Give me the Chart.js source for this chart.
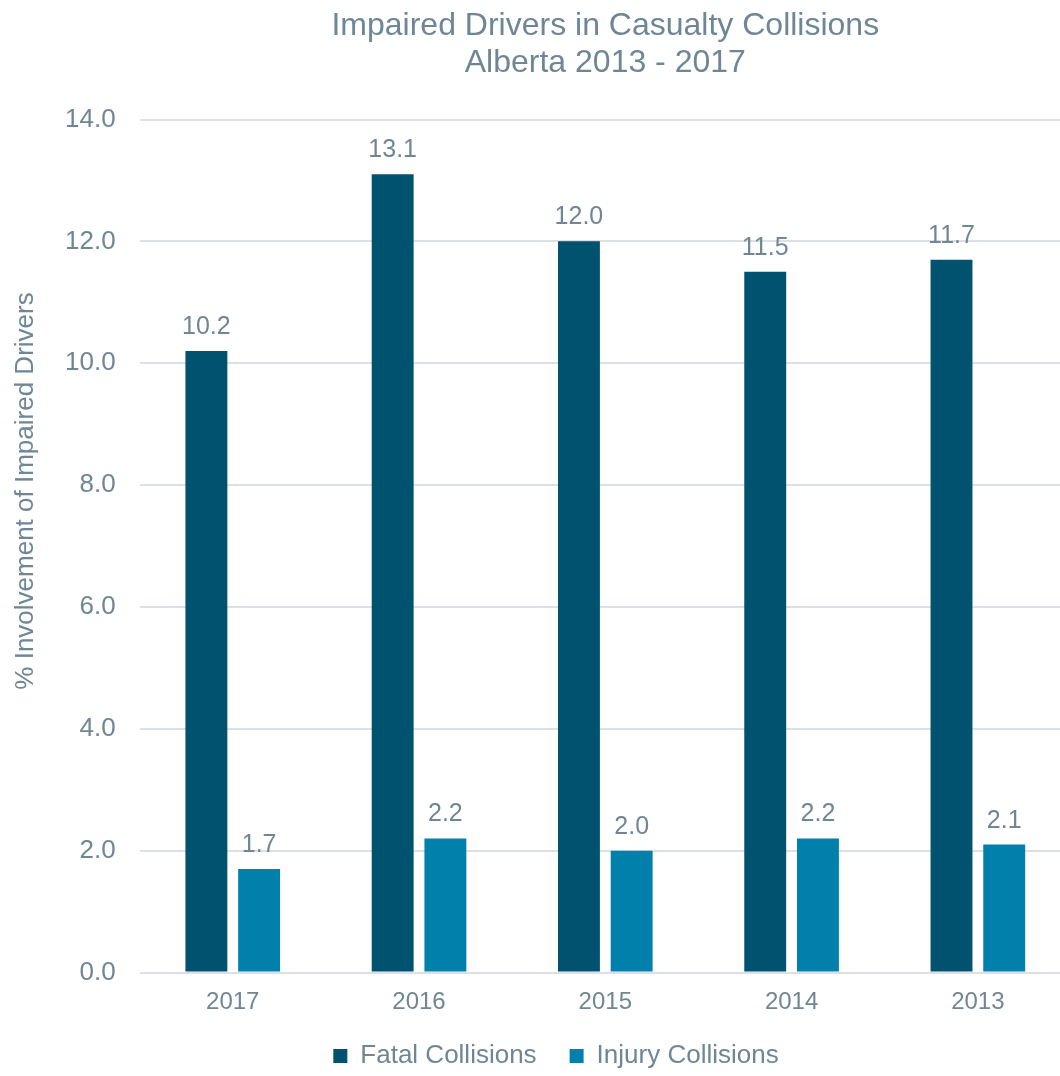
<!DOCTYPE html>
<html>
<head>
<meta charset="utf-8">
<title>Impaired Drivers in Casualty Collisions</title>
<script src="https://cdn.jsdelivr.net/npm/chart.js@4/dist/chart.umd.min.js"></script>
<style>
  html, body { margin: 0; padding: 0; background: #fff; overflow: hidden; }
  #wrap { width: 1103px; height: 1076px; }
</style>
</head>
<body>
<div id="wrap"><canvas id="impairedChart" width="1103" height="1076"></canvas></div>
<script>
// anos (ordem do grafico original: mais recente primeiro)
const years = ["2017", "2016", "2015", "2014", "2013"];
const fatalCollisions = [10.2, 13.1, 12.0, 11.5, 11.7];
const injuryCollisions = [1.7, 2.2, 2.0, 2.2, 2.1];
const yTickValues = [0, 2, 4, 6, 8, 10, 12, 14];

const titleLines = ["Impaired Drivers in Casualty Collisions", "Alberta 2013 - 2017"];
const yAxisTitle = "% Involvement of Impaired Drivers";

const textColor = "#6E8695";
const fontFamily = "'Liberation Sans', Arial, sans-serif";

// titulo centralizado sobre a area do grafico + titulo do eixo y
const titlesPlugin = {
  id: "titles",
  afterDraw(chart) {
    const ctx = chart.ctx;
    const area = chart.chartArea;
    ctx.save();
    ctx.fillStyle = textColor;
    ctx.font = "32px " + fontFamily;
    ctx.textAlign = "center";
    ctx.textBaseline = "alphabetic";
    const cx = (area.left + area.right) / 2;
    ctx.fillText(titleLines[0], cx, 35);
    ctx.fillText(titleLines[1], cx, 72);

    ctx.font = "26px " + fontFamily;
    ctx.translate(33, (area.top + area.bottom) / 2 - 55);
    ctx.rotate(-Math.PI / 2);
    ctx.fillText(yAxisTitle, 0, 0);
    ctx.restore();
  },
};

// valores em cima das barras
const valueLabels = {
  id: "valueLabels",
  afterDatasetsDraw(chart) {
    const ctx = chart.ctx;
    ctx.save();
    ctx.fillStyle = textColor;
    ctx.font = "25px " + fontFamily;
    ctx.textAlign = "center";
    ctx.textBaseline = "alphabetic";
    chart.data.datasets.forEach((ds, i) => {
      chart.getDatasetMeta(i).data.forEach((bar, j) => {
        ctx.fillText(ds.data[j].toFixed(1), bar.x, bar.y - 17);
      });
    });
    ctx.restore();
  },
};

const data = {
  labels: years,
  datasets: [
    {
      label: "Fatal Collisions",
      data: fatalCollisions,
      backgroundColor: "#00526F",
      borderWidth: 0,
      barPercentage: 0.795,
      categoryPercentage: 0.566,
    },
    {
      label: "Injury Collisions",
      data: injuryCollisions,
      backgroundColor: "#0080AB",
      borderWidth: 0,
      barPercentage: 0.795,
      categoryPercentage: 0.566,
    },
  ],
};

const config = {
  type: "bar",
  data: data,
  options: {
    responsive: false,
    animation: false,
    layout: {
      padding: { top: 119.5, left: 41, right: 32, bottom: -3 },
    },
    scales: {
      x: {
        grid: { display: false, drawTicks: false },
        border: { display: false },
        ticks: {
          color: textColor,
          padding: 23,
          font: { family: fontFamily, size: 24, lineHeight: 0.58 },
        },
        // altura fixa do eixo x para sobrar espaco pra legenda
        afterFit(scale) {
          scale.height = 37.5;
        },
      },
      y: {
        min: 0,
        max: 14,
        afterBuildTicks(scale) {
          scale.ticks = yTickValues.map((v) => ({ value: v }));
        },
        grid: { color: "#DCE0E5", lineWidth: 2, drawTicks: false },
        border: { display: false },
        ticks: {
          color: textColor,
          padding: 24,
          font: { family: fontFamily, size: 26 },
          callback: (v) => Number(v).toFixed(1),
        },
      },
    },
    plugins: {
      title: { display: false },
      tooltip: { enabled: false },
      legend: {
        position: "bottom",
        labels: {
          boxWidth: 14,
          boxHeight: 14,
          padding: 33,
          color: textColor,
          font: { family: fontFamily, size: 26 },
        },
      },
    },
  },
  plugins: [titlesPlugin, valueLabels],
};

const ctx = document.getElementById("impairedChart").getContext("2d");
new Chart(ctx, config);
</script>
</body>
</html>
